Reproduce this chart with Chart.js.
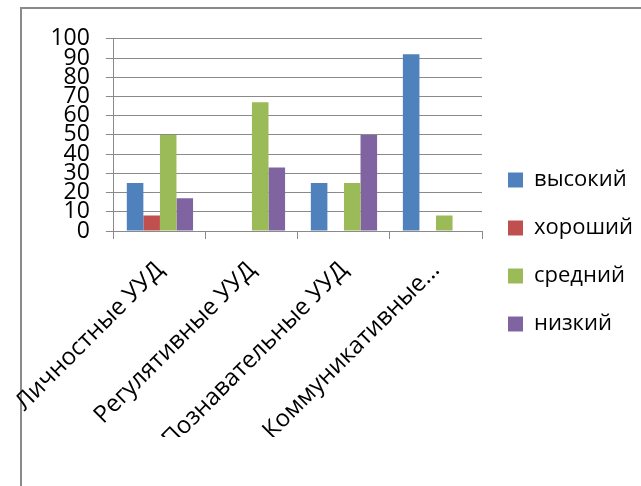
<!DOCTYPE html>
<html>
<head>
<meta charset="utf-8">
<script src="https://cdn.jsdelivr.net/npm/chart.js@4"></script>
<style>
    html, body { margin: 0; padding: 0; background: #fff; }
    body { width: 641px; height: 486px; overflow: hidden; position: relative; }
    #frame { position: absolute; left: 20px; top: 7px; width: 700px; height: 600px; border-left: 2px solid #8a8a8a; border-top: 2px solid #8a8a8a; }
    #wrap { position: absolute; left: -10px; top: 9px; width: 651px; height: 561px; }
</style>
</head>
<body>
<div id="frame"></div>
<div id="wrap"><canvas id="chart"></canvas></div>
<script>
const categories = ['Личностные УУД', 'Регулятивные УУД', 'Познавательные УУД', 'Коммуникативные УУД'];
const seriesNames = ['высокий', 'хороший', 'средний', 'низкий'];
const high = [25, 0, 25, 92];
const good = [8, 0, 0, 0];
const middle = [50, 67, 25, 8];
const low = [17, 33, 50, 0];
const yTicks = [0, 10, 20, 30, 40, 50, 60, 70, 80, 90, 100];

const colors = ['#4F81BD', '#C0504D', '#9BBB59', '#8064A2'];
const family = '"Open Sans", sans-serif';

// the last category name is cut off in the original
function shortLabel(text) {
    return text.length > 18 ? text.split(' ')[0] + '...' : text;
}

// move the legend so it sits beside the plot like in the original
const legendShift = {
    id: 'legendShift',
    afterLayout(chart) {
        chart.legend.top += 21;
        chart.legend.bottom += 21;
    }
};

new Chart(document.getElementById('chart'), {
    type: 'bar',
    data: {
        labels: categories,
        datasets: [high, good, middle, low].map((values, i) => ({
            label: seriesNames[i],
            data: values,
            backgroundColor: colors[i],
            borderWidth: 0,
            categoryPercentage: 0.72,
            barPercentage: 1
        }))
    },
    plugins: [legendShift],
    options: {
        responsive: true,
        maintainAspectRatio: false,
        animation: false,
        layout: { padding: { left: 21, top: 16, bottom: 133, right: 2 } },
        plugins: {
            tooltip: { enabled: false },
            legend: {
                position: 'right',
                labels: { font: { family, size: 22 }, color: '#000', boxWidth: 15, boxHeight: 15, padding: 26 }
            }
        },
        scales: {
            x: {
                offset: true,
                border: { color: '#8a8a8a', width: 1 },
                grid: { offset: true, drawOnChartArea: false, drawTicks: true, tickLength: 8, color: '#8a8a8a' },
                ticks: {
                    font: { family, size: 24 }, color: '#000', padding: 17,
                    minRotation: 45, maxRotation: 45, autoSkip: false,
                    callback: (value, index) => shortLabel(categories[index])
                }
            },
            y: {
                min: 0,
                max: 100,
                afterBuildTicks: axis => { axis.ticks = yTicks.map(v => ({ value: v })); },
                border: { color: '#8a8a8a', width: 1 },
                grid: { color: '#8a8a8a', tickLength: 8 },
                ticks: { font: { family, size: 23 }, color: '#000', padding: 16, autoSkip: false }
            }
        }
    }
});
</script>
</body>
</html>
